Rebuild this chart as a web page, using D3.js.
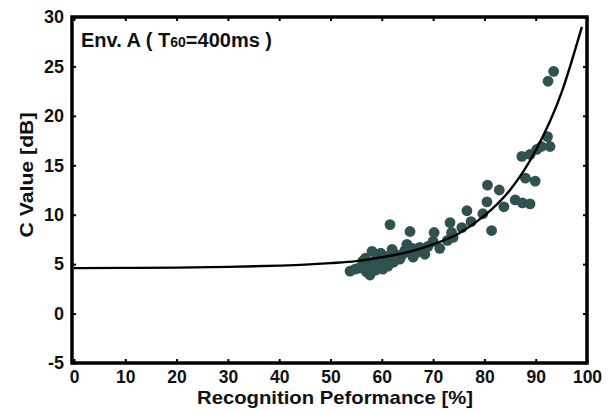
<!DOCTYPE html>
<html lang="en">
<head>
<meta charset="UTF-8">
<title>C value vs recognition performance</title>
<script src="https://d3js.org/d3.v7.min.js"></script>
<style>
    body { margin: 0; background: #fff; }
    text { font-family: "Liberation Sans", Arial, sans-serif; font-weight: bold; fill: #111; }
    .dot { fill: #2f5250; }
    .fit { fill: none; stroke: #000; stroke-width: 2.4; }
</style>
</head>
<body>
<svg width="616" height="410"></svg>
<script>
    // measured points (recognition %, C value dB)
    const perf = [93.5, 92.4, 92.3, 92.8, 91.1, 90.2, 88.9, 87.3, 88.0, 89.9,
                  86.0, 87.4, 88.9, 80.6, 82.9, 80.5, 83.8, 76.6, 79.7, 81.4,
                  77.4, 73.3, 75.6, 73.6, 70.2, 71.3, 70.0, 72.8, 73.9, 61.6,
                  65.5, 53.8, 54.8, 56.3, 58.1, 57.7, 59.3, 60.6, 62.0, 63.5,
                  64.9, 66.1, 67.4, 68.4, 64.1, 59.1, 56.1, 57.1, 58.3, 59.6,
                  60.2, 61.6, 62.6, 65.5, 66.9, 55.5, 57.0, 58.8, 60.0, 61.0,
                  63.0, 64.5, 67.8, 69.0, 58.0, 59.8, 56.8, 62.3, 66.0, 61.2];
    const cval = [24.5, 23.5, 17.9, 16.9, 16.9, 16.6, 16.1, 15.9, 13.7, 13.4,
                  11.5, 11.2, 11.1, 13.0, 12.5, 11.3, 10.8, 10.4, 10.1, 8.4,
                  9.3, 9.2, 8.7, 8.2, 8.2, 6.6, 7.3, 7.4, 7.7, 9.0,
                  8.3, 4.3, 4.5, 5.3, 6.3, 3.9, 4.7, 5.8, 6.5, 5.5,
                  7.0, 5.7, 6.7, 6.0, 6.0, 5.7, 4.7, 4.8, 5.2, 5.3,
                  4.5, 5.3, 6.0, 6.2, 6.2, 4.6, 4.2, 4.4, 4.9, 5.0,
                  5.8, 6.4, 6.3, 6.8, 5.0, 6.1, 5.6, 5.2, 6.6, 4.8];

    // fitted curve
    const fitX = [0, 10, 20, 30, 40, 45, 50, 55, 60, 65, 70, 75, 80, 85, 90, 95, 99];
    const fitY = [4.6, 4.62, 4.65, 4.72, 4.85, 4.95, 5.1, 5.3, 5.7, 6.2, 7.0, 8.1, 9.9, 12.5, 16.5, 22.3, 29.0];

    const xTicks = [0, 10, 20, 30, 40, 50, 60, 70, 80, 90, 100];
    const yTicks = [-5, 0, 5, 10, 15, 20, 25, 30];

    const svg = d3.select("svg");
    const pLeft = 72, pRight = 587, pTop = 17, pBottom = 363;

    const x = d3.scaleLinear().domain([0, 100]).range([pLeft + 2, pRight]);
    const y = d3.scaleLinear().domain([-5, 30]).range([pBottom, pTop]);
    const fmt = d => String(d);

    // inward ticks on all four sides
    svg.append("g").attr("transform", `translate(0,${pBottom})`)
       .call(d3.axisBottom(x).tickValues(xTicks).tickFormat(fmt).tickSize(-4).tickPadding(8))
       .call(g => g.select(".domain").remove())
       .selectAll("text").style("font-size", "17.5px");
    svg.append("g").attr("transform", `translate(0,${pTop})`)
       .call(d3.axisTop(x).tickValues(xTicks).tickSize(-4).tickFormat(""))
       .call(g => g.select(".domain").remove());
    svg.append("g").attr("transform", `translate(${pLeft},0)`)
       .call(d3.axisLeft(y).tickValues(yTicks).tickFormat(fmt).tickSize(-4).tickPadding(8))
       .call(g => g.select(".domain").remove())
       .selectAll("text").style("font-size", "18px");
    svg.append("g").attr("transform", `translate(${pRight},0)`)
       .call(d3.axisRight(y).tickValues(yTicks).tickSize(-4).tickFormat(""))
       .call(g => g.select(".domain").remove());
    svg.selectAll(".tick line").attr("stroke", "#000").attr("stroke-width", 2);

    svg.append("rect")
       .attr("x", pLeft).attr("y", pTop)
       .attr("width", pRight - pLeft).attr("height", pBottom - pTop)
       .attr("fill", "none").attr("stroke", "#000").attr("stroke-width", 3.5);

    svg.selectAll("circle.dot")
       .data(perf.map((p, i) => [p, cval[i]]))
       .join("circle").attr("class", "dot")
         .attr("cx", d => x(d[0]))
         .attr("cy", d => y(d[1]))
         .attr("r", 5.4);

    const line = d3.line()
        .x(d => x(d[0]))
        .y(d => y(d[1]))
        .curve(d3.curveMonotoneX);
    svg.append("path")
       .datum(fitX.map((v, i) => [v, fitY[i]]))
       .attr("class", "fit")
       .attr("d", line);

    // labels
    const title = svg.append("text").attr("x", 81).attr("y", 47).style("font-size", "20px");
    title.append("tspan").text("Env. A ( T");
    title.append("tspan").text("60").style("font-size", "14px");
    title.append("tspan").text("=400ms )");

    svg.append("text")
       .attr("x", 335).attr("y", 404)
       .attr("text-anchor", "middle")
       .attr("textLength", 276).attr("lengthAdjust", "spacingAndGlyphs")
       .style("font-size", "18.5px")
       .text("Recognition Peformance [%]");

    svg.append("text")
       .attr("transform", "translate(33,175) rotate(-90)")
       .attr("text-anchor", "middle")
       .attr("textLength", 125).attr("lengthAdjust", "spacingAndGlyphs")
       .style("font-size", "19px")
       .text("C Value [dB]");
</script>
</body>
</html>
